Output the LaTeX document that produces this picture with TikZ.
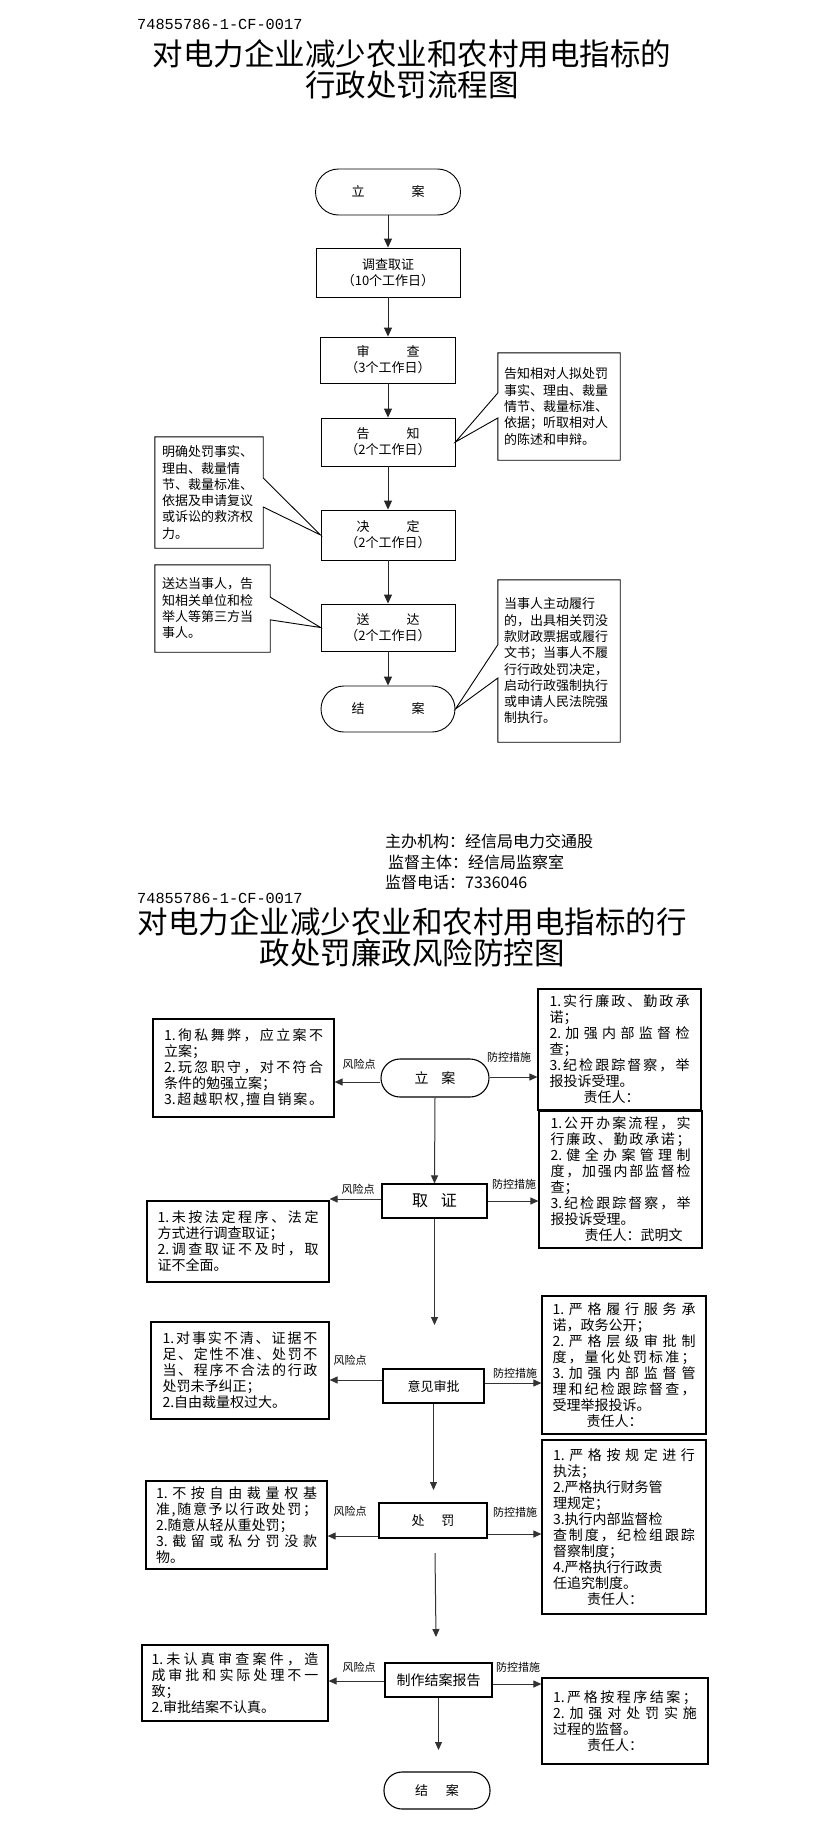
\documentclass[tikz,border=0pt]{standalone}
\usepackage{fontspec}
\newfontfamily\cjk{Noto Sans CJK SC}
\newfontfamily\idfont{Liberation Mono}
\usetikzlibrary{arrows.meta,calc}
\makeatletter
\newcommand\jl[1]{\leavevmode\hbox to\linewidth{\jl@a#1\jl@end}}
\def\jl@a#1#2\jl@end{#1\ifx\relax#2\relax\else\hfill\jl@a#2\jl@end\fi}
\makeatother
\begin{document}
\begin{tikzpicture}[x=1pt,y=-1pt,
  ln/.style={line width=0.9pt,draw=black},
  fbox/.style={draw=black,line width=0.9pt,align=center,inner sep=0pt,font=\cjk\fontsize{13}{16}\selectfont},
  tbox/.style={fbox,rounded corners=#1},
  cotext/.style={align=left,inner ysep=0pt,font=\cjk\fontsize{13}{16.3}\selectfont},
  arrA/.style={line width=0.9pt,draw=black!85,-{Triangle[length=9pt,width=8pt]}},
  sbox/.style={draw=black,line width=1.1pt,align=center,inner sep=0pt,font=\cjk\fontsize{13}{16}\selectfont},
  stbox/.style={sbox,rounded corners=#1},
  pbox/.style={draw=black,line width=1.2pt,align=left,inner ysep=0pt,font=\cjk\fontsize{14}{16}\selectfont},
  arrB/.style={line width=1pt,draw=black!80,-{Triangle[length=8pt,width=7pt]}},
  lbl/.style={inner sep=0pt,font=\cjk\fontsize{11}{12}\selectfont},
  idtxt/.style={anchor=west,inner sep=0pt,font=\idfont\fontsize{15.3}{16}\selectfont},
  ttl/.style={inner sep=0pt,font=\cjk\fontsize{30.5}{32}\selectfont},
  org/.style={anchor=west,inner sep=0pt,font=\cjk\fontsize{16}{18}\selectfont},
]
\fill[white] (0,0) rectangle (823,1825);
\useasboundingbox (0,0) rectangle (823,1825);

% ---------------- Chart 1 ----------------
\node[idtxt] (id1) at (137,24) {74855786-1-CF-0017};
\node[ttl] (ta1) at (412,54) {对电力企业减少农业和农村用电指标的};
\node[ttl] (tb1) at (412,85) {行政处罚流程图};

\node[tbox=23pt, minimum width=145pt, minimum height=46pt] (t1) at (388,192) {立\hspace{47pt}案};
\node[fbox, minimum width=144pt, minimum height=49pt] (n1) at (388,272.5) {调查取证\\（10个工作日）};
\node[fbox, minimum width=135pt, minimum height=46pt] (n2) at (388,360) {审\hspace{37pt}查\\（3个工作日）};
\node[fbox, minimum width=134pt, minimum height=48pt] (n3) at (388,442) {告\hspace{37pt}知\\（2个工作日）};
\node[fbox, minimum width=134pt, minimum height=50pt] (n4) at (388,535) {决\hspace{37pt}定\\（2个工作日）};
\node[fbox, minimum width=134pt, minimum height=47pt] (n5) at (388,627.5) {送\hspace{37pt}达\\（2个工作日）};
\node[tbox=23pt, minimum width=134pt, minimum height=46pt] (t2) at (388,709) {结\hspace{47pt}案};

\draw[arrA] (t1.south) -- (n1.north);
\draw[arrA] (n1.south) -- (n2.north);
\draw[arrA] (n2.south) -- (n3.north);
\draw[arrA] (n3.south) -- (n4.north);
\draw[arrA] (n4.south) -- (n5.north);
\draw[arrA] (n5.south) -- (t2.north);

\node[cotext, text width=110pt, inner xsep=6pt, minimum width=122pt, minimum height=107pt] (c1) at (559,406.5)
 {告知相对人拟处罚\\事实、理由、裁量\\情节、裁量标准、\\依据；听取相对人\\的陈述和申辩。};
\draw[ln] (c1.north west) -- (c1.north east) -- (c1.south east) -- (c1.south west)
  -- ($(c1.north west)!0.607!(c1.south west)$) -- (n3.east) -- ($(c1.north west)!0.374!(c1.south west)$) -- cycle;

\node[cotext, text width=94pt, inner xsep=7pt, minimum width=108pt, minimum height=111pt] (c2) at (209,492.5)
 {明确处罚事实、\\理由、裁量情\\节、裁量标准、\\依据及申请复议\\或诉讼的救济权\\力。};
\draw[ln] (c2.north east) -- (c2.north west) -- (c2.south west) -- (c2.south east)
  -- ($(c2.north east)!0.63!(c2.south east)$) -- (n4.west) -- ($(c2.north east)!0.37!(c2.south east)$) -- cycle;

\node[cotext, text width=101pt, inner xsep=7pt, minimum width=115pt, minimum height=87pt] (c3) at (212.5,608.5)
 {送达当事人，告\\知相关单位和检\\举人等第三方当\\事人。};
\draw[ln] (c3.north east) -- (c3.north west) -- (c3.south west) -- (c3.south east)
  -- ($(c3.north east)!0.63!(c3.south east)$) -- (n5.west) -- ($(c3.north east)!0.37!(c3.south east)$) -- cycle;

\node[cotext, text width=110pt, inner xsep=6pt, minimum width=122pt, minimum height=162pt] (c4) at (559,661)
 {当事人主动履行\\的，出具相关罚没\\款财政票据或履行\\文书；当事人不履\\行行政处罚决定，\\启动行政强制执行\\或申请人民法院强\\制执行。};
\draw[ln] (c4.north west) -- (c4.north east) -- (c4.south east) -- (c4.south west)
  -- ($(c4.north west)!0.605!(c4.south west)$) -- (t2.east) -- ($(c4.north west)!0.40!(c4.south west)$) -- cycle;

% ---------------- Chart 2 ----------------
\node[org] (o1) at (385,841) {主办机构：经信局电力交通股};
\node[org] (o2) at (388,862) {监督主体：经信局监察室};
\node[org] (o3) at (385,882) {监督电话：7336046};
\node[idtxt] (id2) at (137,898) {74855786-1-CF-0017};
\node[ttl] (ta2) at (412,922) {对电力企业减少农业和农村用电指标的行};
\node[ttl] (tb2) at (412,953) {政处罚廉政风险防控图};

\node[stbox=19pt, minimum width=108pt, minimum height=38pt, font=\cjk\fontsize{14}{16}\selectfont] (s1) at (435,1078) {立\hspace{13pt}案};
\node[sbox, minimum width=105pt, minimum height=34pt, font=\cjk\fontsize{16}{18}\selectfont] (s2) at (434.5,1201) {取\hspace{13pt}证};
\node[sbox, minimum width=101pt, minimum height=34pt] (s3) at (433.5,1386) {意见审批};
\node[sbox, minimum width=108pt, minimum height=35pt] (s4) at (433,1520.5) {处\hspace{17pt}罚};
\node[sbox, minimum width=107pt, minimum height=34pt, font=\cjk\fontsize{14}{16}\selectfont] (s5) at (438.5,1680) {制作结案报告};
\node[stbox=18pt, minimum width=106pt, minimum height=37pt] (s6) at (437,1790.5) {结\hspace{18pt}案};

% left (risk) boxes
\node[pbox, text width=159pt, inner xsep=11pt, minimum width=181pt, minimum height=98pt] (L1) at (243.5,1068)
 {\jl{{1.}徇私舞弊，应立案不}\\立案；\\\jl{{2.}玩忽职守，对不符合}\\条件的勉强立案；\\\jl{{3.}超越职权,擅自销案。}};
\node[pbox, text width=161pt, inner xsep=10.5pt, minimum width=182pt, minimum height=81pt] (L2) at (238,1241.5)
 {\jl{{1.}未按法定程序、法定}\\方式进行调查取证；\\\jl{{2.}调查取证不及时，取}\\证不全面。};
\node[pbox, text width=155pt, inner xsep=11.5pt, minimum width=178pt, minimum height=97pt] (L3) at (240,1370.5)
 {\jl{{1.}对事实不清、证据不}\\\jl{足、定性不准、处罚不}\\\jl{当、程序不合法的行政}\\处罚未予纠正；\\2.自由裁量权过大。};
\node[pbox, text width=161pt, inner xsep=10pt, minimum width=181pt, minimum height=88pt] (L4) at (236.5,1525)
 {\jl{{1.}不按自由裁量权基}\\\jl{准,随意予以行政处罚；}\\2.随意从轻从重处罚；\\\jl{{3.}截留或私分罚没款}\\物。};
\node[pbox, text width=167pt, inner xsep=9.5pt, minimum width=186pt, minimum height=76pt] (L5) at (235,1683)
 {\jl{{1.}未认真审查案件，造}\\\jl{成审批和实际处理不一}\\致；\\2.审批结案不认真。};

% right (control) boxes
\node[pbox, text width=140pt, inner xsep=11.5pt, minimum width=163pt, minimum height=121pt] (R1) at (619.5,1049.5)
 {\jl{{1.}实行廉政、勤政承}\\诺；\\\jl{{2.}加强内部监督检}\\查；\\\jl{{3.}纪检跟踪督察，举}\\报投诉受理。\\\hspace*{34pt}责任人：};
\node[pbox, text width=140pt, inner xsep=11.5pt, minimum width=163pt, minimum height=137pt] (R2) at (620.5,1179.5)
 {\jl{{1.}公开办案流程，实}\\\jl{行廉政、勤政承诺；}\\\jl{{2.}健全办案管理制}\\\jl{度，加强内部监督检}\\查；\\\jl{{3.}纪检跟踪督察，举}\\报投诉受理。\\\hspace*{34pt}责任人：武明文};
\node[pbox, text width=143pt, inner xsep=10.5pt, minimum width=164pt, minimum height=138pt] (R3) at (624,1365)
 {\jl{{1.}严格履行服务承}\\诺，政务公开；\\\jl{{2.}严格层级审批制}\\\jl{度，量化处罚标准；}\\\jl{{3.}加强内部监督管}\\\jl{理和纪检跟踪督查，}\\受理举报投诉。\\\hspace*{34pt}责任人：};
\node[pbox, text width=142pt, inner xsep=11pt, minimum width=164pt, minimum height=174pt] (R4) at (624,1527)
 {\jl{{1.}严格按规定进行}\\执法；\\2.严格执行财务管\\理规定；\\3.执行内部监督检\\\jl{查制度，纪检组跟踪}\\督察制度；\\4.严格执行行政责\\任追究制度。\\\hspace*{34pt}责任人：};
\node[pbox, text width=144pt, inner xsep=11pt, minimum width=166pt, minimum height=86pt] (R5) at (625,1721)
 {\jl{{1.}严格按程序结案；}\\\jl{{2.}加强对处罚实施}\\过程的监督。\\\hspace*{34pt}责任人：};

% vertical connectors
\coordinate (v2) at (434.5,1325);
\coordinate (v3) at (433.5,1490);
\coordinate (v4a) at (435,1553);
\coordinate (v4b) at (436,1637);
\coordinate (v5) at (438.5,1750);
\draw[arrB] (s1.south) -- (s2.north);
\draw[arrB] (s2.south) -- (v2);
\draw[arrB] (s3.south) -- (v3);
\draw[arrB] (v4a) -- (v4b);
\draw[arrB] (s5.south) -- (v5);

% horizontal connectors
\draw[arrB] ([yshift=-4pt]s1.west) coordinate (p1) -- (p1 -| L1.east);
\draw[arrB] ([yshift=1pt]s1.east) coordinate (q1) -- (q1 -| R1.west);
\draw[arrB] ([yshift=2pt]s2.west) coordinate (p2) -- (p2 -| L2.east);
\draw[arrB] (s2.east) -- (s2.east -| R2.west);
\draw[arrB] ([yshift=6pt]s3.west) coordinate (p3) -- (p3 -| L3.east);
\draw[arrB] ([yshift=3pt]s3.east) coordinate (q3) -- (q3 -| R3.west);
\draw[arrB] ([yshift=-15.5pt]s4.west) coordinate (p4) -- (p4 -| L4.east);
\draw[arrB] ([yshift=-13.5pt]s4.east) coordinate (q4) -- (q4 -| R4.west);
\draw[arrB] ([yshift=-1pt]s5.west) coordinate (p5) -- (p5 -| L5.east);
\draw[arrB] ([yshift=-4pt]s5.east) coordinate (q5) -- (q5 -| R5.west);

% labels
\node[lbl] (k1) at (359,1064) {风险点};
\node[lbl] (f1) at (509,1057) {防控措施};
\node[lbl] (k2) at (358,1189) {风险点};
\node[lbl] (f2) at (514,1184) {防控措施};
\node[lbl] (k3) at (350,1360) {风险点};
\node[lbl] (f3) at (515,1373) {防控措施};
\node[lbl] (k4) at (350,1511) {风险点};
\node[lbl] (f4) at (515,1512) {防控措施};
\node[lbl] (k5) at (359,1667) {风险点};
\node[lbl] (f5) at (518,1667) {防控措施};
\end{tikzpicture}
\end{document}
